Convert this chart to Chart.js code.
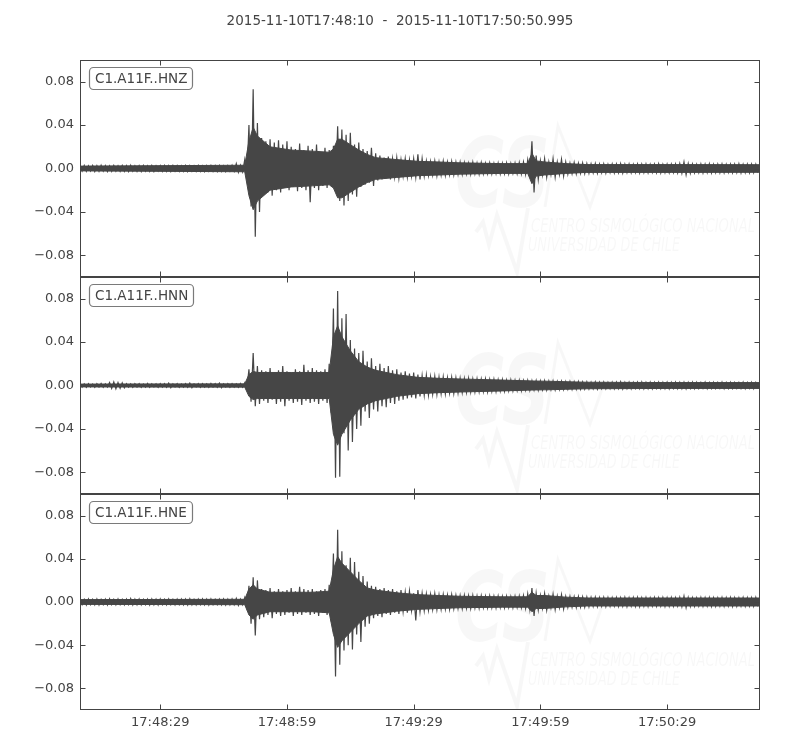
<!DOCTYPE html>
<html><head><meta charset="utf-8">
<script src="https://cdn.jsdelivr.net/npm/chart.js@4.4.1/dist/chart.umd.min.js"></script>
<style>
html,body{margin:0;padding:0;background:#fff;}
#wrap{position:relative;width:800px;height:750px;background:#fff;}
#wrap canvas{position:absolute;left:0;top:0;}
</style></head><body>
<div id="wrap">
<canvas id="c0" width="800" height="750"></canvas>
<canvas id="c1" width="800" height="750"></canvas>
<canvas id="c2" width="800" height="750"></canvas>
</div>
<script>
// ---------- data ----------
const TITLE = '2015-11-10T17:48:10  -  2015-11-10T17:50:50.995';
const channels = ['C1.A11F..HNZ', 'C1.A11F..HNN', 'C1.A11F..HNE'];
const DURATION = 160.995;               // seconds after 17:48:10
const xTickSeconds = [19, 49, 79, 109, 139];
const xTickLabels = ['17:48:29', '17:48:59', '17:49:29', '17:49:59', '17:50:29'];
const yTickValues = [-0.08, -0.04, 0, 0.04, 0.08];
const yTickLabels = ['\u22120.08', '\u22120.04', '0.00', '0.04', '0.08'];

// per-second peak values (max / min) of each trace, seconds 0..160
const hnzHi = [.0025,.0028,.0024,.0027,.0025,.0029,.0026,.0024,.0028,.0025,
 .0027,.0025,.0029,.0024,.0026,.0028,.0025,.0027,.0024,.0026,
 .0028,.0025,.0027,.0026,.0024,.0028,.0026,.0025,.0027,.0024,
 .0026,.0028,.0025,.0027,.0024,.0026,.0029,.0045,.0030,.0080,
 .040,.073,.042,.028,.025,.027,.024,.026,.022,.025,
 .020,.018,.023,.017,.021,.018,.022,.015,.019,.017,
 .021,.039,.036,.031,.033,.022,.024,.018,.016,.019,
 .014,.012,.010,.011,.009,.010,.008,.009,.008,.009,
 .013,.009,.007,.0065,.007,.006,.0068,.006,.0065,.0058,
 .006,.0055,.005,.0058,.005,.0054,.0048,.0052,.0047,.005,
 .0048,.0052,.0046,.005,.0055,.006,.008,.025,.012,.007,
 .009,.006,.009,.006,.0085,.006,.005,.0055,.0048,.005,
 .0045,.0042,.0045,.004,.0043,.0038,.0042,.004,.0044,.0039,
 .0041,.0038,.0042,.0039,.0041,.0037,.004,.0042,.0038,.004,
 .0039,.0041,.0045,.006,.0045,.004,.0038,.0041,.0039,.0042,
 .0038,.004,.0041,.0037,.004,.0039,.0042,.0038,.004,.0039,
 .0038];
const hnzLo = [-.0024,-.0026,-.0023,-.0027,-.0025,-.0024,-.0028,-.0025,-.0023,-.0026,
 -.0025,-.0027,-.0024,-.0026,-.0028,-.0024,-.0025,-.0027,-.0023,-.0026,
 -.0025,-.0027,-.0024,-.0026,-.0025,-.0028,-.0024,-.0026,-.0025,-.0027,
 -.0024,-.0026,-.0028,-.0025,-.0027,-.0024,-.0026,-.0035,-.0030,-.010,
 -.035,-.063,-.040,-.024,-.022,-.025,-.020,-.022,-.018,-.020,
 -.017,-.021,-.018,-.020,-.031,-.018,-.020,-.016,-.018,-.015,
 -.020,-.030,-.034,-.030,-.024,-.026,-.017,-.015,-.013,-.016,
 -.011,-.010,-.009,-.010,-.008,-.009,-.007,-.008,-.007,-.008,
 -.010,-.007,-.0065,-.006,-.0068,-.006,-.0064,-.0058,-.006,-.0055,
 -.0056,-.005,-.0054,-.0048,-.0052,-.005,-.0047,-.005,-.0046,-.0049,
 -.0047,-.005,-.0045,-.0048,-.005,-.0055,-.007,-.022,-.010,-.006,
 -.008,-.0055,-.008,-.0055,-.007,-.0052,-.0048,-.005,-.0045,-.0047,
 -.0043,-.004,-.0044,-.0039,-.0042,-.0037,-.0041,-.0039,-.0042,-.0038,
 -.004,-.0037,-.0041,-.0038,-.004,-.0036,-.0039,-.0041,-.0037,-.0039,
 -.0038,-.004,-.0044,-.0058,-.0044,-.0039,-.0037,-.004,-.0038,-.0041,
 -.0037,-.0039,-.004,-.0036,-.0039,-.0038,-.0041,-.0037,-.0039,-.0038,
 -.0037];
const hnnHi = [.0016,.0015,.0017,.0014,.0016,.0018,.0015,.0028,.0032,.0027,
 .0025,.0016,.0015,.0017,.0016,.0014,.0018,.0016,.0015,.0017,
 .0016,.0022,.0015,.0017,.0014,.0016,.0021,.0015,.0017,.0016,
 .0015,.0018,.0016,.0022,.0015,.0017,.0016,.0015,.0018,.0025,
 .015,.030,.018,.014,.013,.016,.012,.014,.018,.013,
 .012,.015,.013,.019,.014,.016,.014,.013,.015,.020,
 .071,.087,.062,.066,.042,.034,.030,.032,.022,.025,
 .018,.020,.016,.018,.014,.015,.012,.013,.011,.012,
 .010,.009,.0095,.008,.0085,.0078,.008,.0072,.0075,.007,
 .0068,.0065,.0066,.006,.0062,.0058,.006,.0055,.0057,.0052,
 .0054,.005,.0052,.0048,.0049,.0045,.0047,.0043,.0045,.0042,
 .0044,.004,.0042,.0038,.004,.0036,.0038,.0035,.0037,.0034,
 .0033,.0031,.0034,.003,.0032,.0029,.0031,.003,.0033,.0029,
 .0031,.0028,.003,.0032,.0029,.0031,.0028,.003,.0029,.0031,
 .0028,.003,.0029,.0031,.0028,.003,.0029,.0027,.003,.0028,
 .0029,.0027,.003,.0028,.0029,.0027,.0028,.003,.0027,.0029,
 .0028];
const hnnLo = [-.0015,-.0016,-.0014,-.0017,-.0015,-.0016,-.0014,-.0026,-.0030,-.0025,
 -.0022,-.0015,-.0016,-.0014,-.0017,-.0015,-.0016,-.0014,-.0017,-.0015,
 -.0016,-.0020,-.0014,-.0016,-.0015,-.0017,-.0020,-.0014,-.0016,-.0015,
 -.0017,-.0015,-.0016,-.0020,-.0014,-.0016,-.0015,-.0017,-.0016,-.0030,
 -.015,-.019,-.017,-.014,-.016,-.013,-.017,-.015,-.019,-.014,
 -.016,-.015,-.018,-.014,-.016,-.015,-.017,-.014,-.016,-.025,
 -.085,-.084,-.044,-.060,-.052,-.040,-.037,-.024,-.030,-.022,
 -.024,-.019,-.020,-.016,-.017,-.014,-.013,-.012,-.011,-.012,
 -.010,-.009,-.0088,-.008,-.0082,-.0076,-.0078,-.007,-.0073,-.0068,
 -.0066,-.0064,-.0062,-.006,-.0059,-.0056,-.0058,-.0053,-.0055,-.0051,
 -.0052,-.0049,-.005,-.0047,-.0048,-.0044,-.0046,-.0042,-.0043,-.004,
 -.0042,-.0039,-.004,-.0037,-.0038,-.0035,-.0036,-.0034,-.0035,-.0033,
 -.0032,-.003,-.0033,-.0029,-.0031,-.0028,-.003,-.0029,-.0032,-.0028,
 -.003,-.0027,-.0029,-.0031,-.0028,-.003,-.0027,-.0029,-.0028,-.003,
 -.0027,-.0029,-.0028,-.003,-.0027,-.0029,-.0028,-.0026,-.0029,-.0027,
 -.0028,-.0026,-.0029,-.0027,-.0028,-.0026,-.0027,-.0029,-.0026,-.0028,
 -.0027];
const hneHi = [.0026,.0024,.0028,.0025,.0027,.0024,.0026,.0029,.0025,.0027,
 .0024,.0026,.0032,.0025,.0027,.0024,.0026,.0028,.0025,.0027,
 .0025,.0028,.0024,.0026,.0027,.0025,.0029,.0024,.0026,.0028,
 .0025,.0027,.0024,.0026,.0028,.0025,.0027,.0032,.0026,.0040,
 .015,.023,.020,.012,.011,.013,.010,.012,.010,.011,
 .013,.010,.014,.012,.011,.012,.010,.011,.012,.016,
 .045,.067,.047,.034,.041,.037,.028,.024,.019,.015,
 .014,.012,.013,.011,.012,.010,.011,.009,.010,.008,
 .011,.008,.0075,.007,.0078,.0068,.007,.0065,.0068,.0062,
 .006,.0063,.0058,.006,.0055,.0057,.0053,.0056,.0052,.0055,
 .0052,.0054,.005,.0053,.0055,.006,.0075,.013,.008,.006,
 .0078,.0055,.0072,.0055,.0068,.005,.0052,.0048,.005,.0046,
 .0045,.0042,.0044,.004,.0043,.0041,.0039,.0042,.004,.0043,
 .0039,.0041,.0043,.004,.0042,.0038,.0041,.0039,.0042,.004,
 .0041,.0039,.0043,.0055,.0042,.004,.0038,.0041,.0039,.0042,
 .004,.0038,.0041,.0039,.0042,.004,.0038,.0041,.0039,.004,
 .0041];
const hneLo = [-.0025,-.0027,-.0024,-.0026,-.0028,-.0025,-.0027,-.0024,-.0026,-.0025,
 -.0027,-.0024,-.0028,-.0025,-.0026,-.0024,-.0027,-.0025,-.0028,-.0024,
 -.0026,-.0025,-.0027,-.0024,-.0026,-.0028,-.0025,-.0027,-.0024,-.0026,
 -.0027,-.0025,-.0024,-.0026,-.0027,-.0025,-.0026,-.0030,-.0025,-.0050,
 -.020,-.031,-.016,-.014,-.012,-.015,-.011,-.013,-.012,-.010,
 -.013,-.011,-.012,-.010,-.012,-.011,-.013,-.010,-.012,-.018,
 -.069,-.058,-.045,-.040,-.044,-.030,-.037,-.023,-.020,-.015,
 -.013,-.014,-.011,-.012,-.010,-.011,-.009,-.010,-.008,-.017,
 -.009,-.008,-.0075,-.007,-.0072,-.0068,-.0065,-.0068,-.0062,-.006,
 -.0062,-.0058,-.006,-.0055,-.0057,-.0053,-.0055,-.0052,-.0054,-.005,
 -.0052,-.005,-.0053,-.0049,-.0052,-.0058,-.007,-.013,-.0075,-.0058,
 -.0075,-.0052,-.007,-.0052,-.0065,-.005,-.0048,-.005,-.0046,-.0048,
 -.0044,-.0041,-.0043,-.0039,-.0042,-.004,-.0038,-.0041,-.0039,-.0042,
 -.0038,-.004,-.0042,-.0039,-.0041,-.0037,-.004,-.0038,-.0041,-.0039,
 -.004,-.0038,-.0042,-.0052,-.0041,-.0039,-.0037,-.004,-.0038,-.0041,
 -.0039,-.0037,-.004,-.0038,-.0041,-.0039,-.0037,-.004,-.0038,-.0039,
 -.004];

// half-width of the dense (solid) core of each trace, at these seconds
const coreTimes = [0, 39, 40, 41, 42, 45, 50, 55, 59, 60, 61, 62, 64, 66, 68, 70, 75, 80, 85, 90, 100, 106, 107, 108, 110, 115, 120, 140, 160.995];
const hnzCore = [.0022,.0030,.025,.038,.030,.020,.017,.016,.015,.018,.027,.027,.022,.017,.013,.010,.0082,.0066,.006,.0052,.0045,.0045,.014,.007,.006,.0045,.0036,.0036,.0035];
const hnnCore = [.0013,.0015,.010,.013,.012,.012,.012,.012,.012,.045,.055,.045,.032,.022,.017,.014,.010,.0075,.0066,.006,.005,.0043,.0042,.0041,.004,.0035,.003,.0027,.0027];
const hneCore = [.0022,.0025,.012,.016,.012,.009,.009,.009,.010,.030,.042,.036,.028,.020,.013,.011,.0085,.0068,.006,.0053,.0048,.0048,.009,.006,.006,.0045,.0037,.0037,.0037];

const peaks = [[hnzHi, hnzLo], [hnnHi, hnnLo], [hneHi, hneLo]];
const cores = [hnzCore, hnnCore, hneCore];

// ---------- layout / style ----------
const W = 800, H = 750;
const PLOT_LEFT = 80, PLOT_RIGHT = 760;
const panelTops = [60, 277, 494];
const panelBottoms = [277, 494, 710];
const INK = '#444444';
const TRACE = '#464646';
const FONT = 'DejaVu Sans';
const WM = 'rgba(0,0,0,0.03)';

function tracePoints(hi, lo) {
  const pts = [];
  for (let i = 0; i < hi.length; i++) {
    pts.push({x: i, y: hi[i]});
    pts.push({x: i + 0.5, y: lo[i]});
  }
  return pts;
}
function corePoints(core, sign) {
  return core.map((v, i) => ({x: coreTimes[i], y: sign * v}));
}

function drawWatermark(ctx, area) {
  const t = area.top;
  ctx.save();
  ctx.beginPath();
  ctx.rect(area.left, area.top, area.right - area.left, area.bottom - area.top);
  ctx.clip();
  ctx.fillStyle = WM;
  ctx.strokeStyle = WM;
  ctx.font = 'italic bold 96px "DejaVu Sans"';
  ctx.textBaseline = 'alphabetic';
  ctx.textAlign = 'left';
  ctx.fillText('CS', 455, t + 147, 95);
  ctx.lineWidth = 3;
  ctx.lineJoin = 'miter';
  ctx.beginPath();
  ctx.moveTo(545, t + 147); ctx.lineTo(558, t + 66); ctx.lineTo(590, t + 147); ctx.lineTo(602, t + 112);
  ctx.stroke();
  ctx.lineWidth = 4;
  ctx.beginPath();
  ctx.moveTo(476, t + 172); ctx.lineTo(483, t + 162); ctx.lineTo(489, t + 185);
  ctx.lineTo(497, t + 155); ctx.lineTo(517, t + 212); ctx.lineTo(528, t + 148);
  ctx.stroke();
  ctx.font = 'italic 19px "Liberation Sans Narrow", "DejaVu Sans Condensed", "DejaVu Sans"';
  ctx.fillText('CENTRO SISMOLÓGICO NACIONAL', 531, t + 172, 224);
  ctx.fillText('UNIVERSIDAD DE CHILE', 528, t + 191, 152);
  ctx.restore();
}

function makePanelPlugin(k) {
  return {
    id: 'panel' + k,
    beforeDatasetsDraw(chart) {
      drawWatermark(chart.ctx, chart.chartArea);
    },
    afterDatasetsDraw(chart) {
      const ctx = chart.ctx, a = chart.chartArea;
      const xs = chart.scales.x, ys = chart.scales.y;
      const L = Math.round(a.left) + 0.5, R = Math.round(a.right) - 0.5;
      const T = Math.round(a.top) + 0.5, B = Math.round(a.bottom) - 0.5;
      ctx.save();
      ctx.strokeStyle = INK;
      ctx.lineWidth = 1;
      ctx.beginPath();
      yTickValues.forEach(v => {
        const y = Math.round(ys.getPixelForValue(v)) + 0.5;
        ctx.moveTo(L, y); ctx.lineTo(L + 5, y);
        ctx.moveTo(R, y); ctx.lineTo(R - 5, y);
      });
      xTickSeconds.forEach(v => {
        const x = Math.round(xs.getPixelForValue(v)) + 0.5;
        ctx.moveTo(x, B); ctx.lineTo(x, B - 5);
        ctx.moveTo(x, T); ctx.lineTo(x, T + 5);
      });
      ctx.stroke();
      ctx.strokeRect(L, T, R - L, B - T);
      ctx.font = '13.5px "' + FONT + '"';
      const tw = ctx.measureText(channels[k]).width;
      const bx = Math.round(a.left + 9) + 0.5, by = Math.round(a.top + 6.5) + 0.5;
      const bw = Math.round(tw + 11), bh = 22;
      ctx.beginPath();
      ctx.roundRect(bx, by, bw, bh, 4);
      ctx.fillStyle = '#ffffff';
      ctx.fill();
      ctx.strokeStyle = '#7a7a7a';
      ctx.lineWidth = 1.2;
      ctx.stroke();
      ctx.fillStyle = INK;
      ctx.textBaseline = 'middle';
      ctx.textAlign = 'left';
      ctx.fillText(channels[k], bx + 5.5, by + bh / 2 + 0.5);
      if (k === 0) {
        ctx.font = '13.5px "' + FONT + '"';
        ctx.textAlign = 'center';
        ctx.fillText(TITLE, W / 2, 21);
      }
      ctx.restore();
    }
  };
}

channels.forEach((name, k) => {
  const xAxisH = (k === 2) ? (H - panelBottoms[k]) : 0;
  const [hi, lo] = peaks[k];
  const common = {borderColor: TRACE, backgroundColor: TRACE, pointRadius: 0, tension: 0};
  new Chart(document.getElementById('c' + k), {
    type: 'line',
    data: {
      datasets: [
        Object.assign({label: name + ' core+', data: corePoints(cores[k], 1), borderWidth: 1, fill: '+1'}, common),
        Object.assign({label: name + ' core-', data: corePoints(cores[k], -1), borderWidth: 1, fill: false}, common),
        Object.assign({label: name, data: tracePoints(hi, lo), borderWidth: 1.2, fill: false}, common)
      ]
    },
    options: {
      responsive: false,
      animation: false,
      devicePixelRatio: 1,
      events: [],
      layout: {padding: {left: 0, right: W - PLOT_RIGHT, top: panelTops[k], bottom: H - panelBottoms[k] - xAxisH}},
      plugins: {legend: {display: false}, tooltip: {enabled: false}, title: {display: false}},
      scales: {
        x: {
          type: 'linear', min: 0, max: DURATION,
          grid: {display: false, drawTicks: false, tickLength: 0}, border: {display: false},
          ticks: {
            display: k === 2, autoSkip: false, maxRotation: 0, padding: 5,
            color: INK, font: {family: FONT, size: 13},
            callback: (v, i) => xTickLabels[i]
          },
          afterBuildTicks: s => { s.ticks = xTickSeconds.map(v => ({value: v})); },
          afterFit: s => { s.height = xAxisH; }
        },
        y: {
          type: 'linear', min: -0.1, max: 0.1,
          grid: {display: false, drawTicks: false, tickLength: 0}, border: {display: false},
          ticks: {
            padding: 6, color: INK, font: {family: FONT, size: 13},
            callback: (v, i) => yTickLabels[i]
          },
          afterBuildTicks: s => { s.ticks = yTickValues.map(v => ({value: v})); },
          afterFit: s => { s.width = PLOT_LEFT; }
        }
      }
    },
    plugins: [makePanelPlugin(k)]
  });
});
</script>
</body></html>
